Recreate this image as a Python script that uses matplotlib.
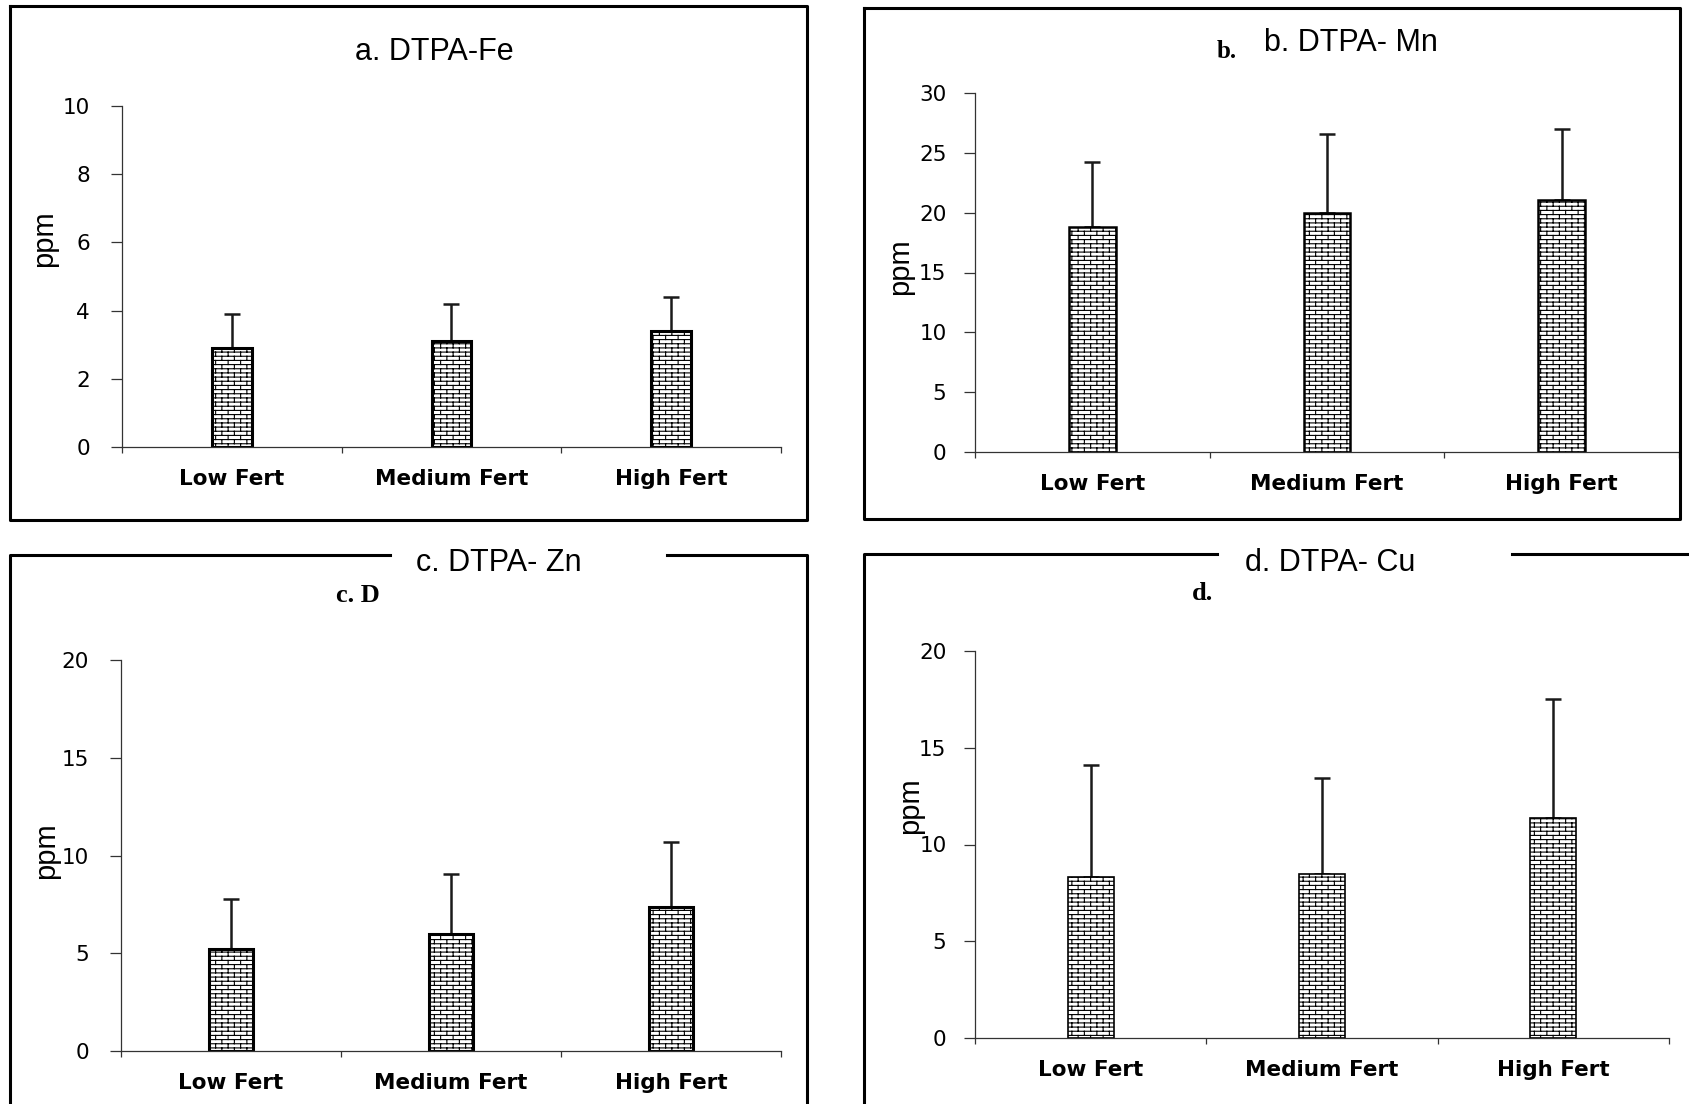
import numpy as np
import matplotlib
matplotlib.use('Agg')
import matplotlib.pyplot as plt
import matplotlib.hatch as mhatch
from matplotlib.path import Path
from matplotlib.lines import Line2D

categories = ['Low Fert', 'Medium Fert', 'High Fert']

fe_mean = [2.9, 3.1, 3.4]
fe_sd = [0.99, 1.1, 0.99]
mn_mean = [18.8, 19.95, 21.1]
mn_sd = [5.45, 6.6, 5.85]
zn_mean = [5.2, 5.97, 7.38]
zn_sd = [2.57, 3.1, 3.32]
cu_mean = [8.3, 8.48, 11.39]
cu_sd = [5.81, 4.97, 6.14]

W, H = 1690, 1104


# brick pattern used as the '-' hatch
class BrickHatch(mhatch.HatchPatternBase):
    rows = 24
    cols = 8

    def __init__(self, hatch, density):
        self.on = '-' in hatch
        n, m = self.rows, self.cols
        self.num_vertices = (2 * n + 2 * n * m + 2 * m) if self.on else 0

    def set_vertices_and_codes(self, vertices, codes):
        n, m = self.rows, self.cols
        k = 0
        for i in range(n):
            y = (i + 0.5) / n
            vertices[k] = (0, y)
            vertices[k + 1] = (1, y)
            k += 2
        for i in range(n):
            y0 = (i + 0.5) / n
            y1 = min((i + 1.5) / n, 1.0)
            off = 0.5 / m if i % 2 else 0.0
            for j in range(m):
                x = j / m + off + 0.25 / m
                vertices[k] = (x, y0)
                vertices[k + 1] = (x, y1)
                k += 2
        off = 0.5 / m if (n - 1) % 2 else 0.0
        for j in range(m):
            x = j / m + off + 0.25 / m
            vertices[k] = (x, 0.0)
            vertices[k + 1] = (x, 0.5 / n)
            k += 2
        codes[0::2] = Path.MOVETO
        codes[1::2] = Path.LINETO


mhatch._hatch_types[:] = [BrickHatch]
plt.rcParams['hatch.linewidth'] = 0.8


def fx(x):
    return x / W


def fy(y):
    return 1 - y / H


def px_rect(l, t, r, b):
    return [l / W, 1 - b / H, (r - l) / W, (b - t) / H]


def line(fig, xs, ys, lw=2.2):
    fig.add_artist(Line2D([fx(v) for v in xs], [fy(v) for v in ys],
                          transform=fig.transFigure, color='black', lw=lw,
                          solid_capstyle='projecting'))


def panel(fig, rect, means, sds, ymax, ystep, width, edge_lw, ylab_xy, ypad):
    ax = fig.add_axes(px_rect(*rect))
    x = np.arange(len(categories))
    ax.bar(x, means, width=width, color='white', edgecolor='black',
           linewidth=edge_lw, hatch='-', zorder=2)
    ax.errorbar(x, means, yerr=[np.zeros(len(sds)), sds], fmt='none',
                ecolor='#1a1a1a', elinewidth=1.8, capsize=6, capthick=1.8,
                zorder=1)
    ax.set_xlim(-0.5, 2.5)
    ax.set_ylim(0, ymax)
    ax.set_yticks(np.arange(0, ymax + 0.01, ystep))
    ax.set_yticklabels([f'{v:g}' for v in np.arange(0, ymax + 0.01, ystep)],
                       fontsize=15.5, family='DejaVu Sans')
    ax.set_xticks(x)
    ax.set_xticklabels(categories, fontsize=15.5, fontweight='bold',
                       family='DejaVu Sans')
    ax.set_xticks([-0.5, 0.5, 1.5, 2.5], minor=True)
    ax.tick_params(axis='x', which='major', length=0, pad=16)
    ax.tick_params(axis='x', which='minor', length=4.5, width=0.9,
                   color='#333333')
    ax.tick_params(axis='y', length=8, width=0.9, color='#333333', pad=ypad)
    for s in ['top', 'right']:
        ax.spines[s].set_visible(False)
    for s in ['left', 'bottom']:
        ax.spines[s].set_color('#333333')
        ax.spines[s].set_linewidth(0.9)
    ax.set_ylabel('ppm', fontsize=21, family='Liberation Sans', va='center')
    ax.yaxis.set_label_coords(fx(ylab_xy[0]), fy(ylab_xy[1]),
                              transform=fig.transFigure)
    return ax


fig = plt.figure(figsize=(W / 100, H / 100), dpi=100)

panel(fig, (122, 106, 781, 447), fe_mean, fe_sd, 10, 2, 0.18, 2.2, (44, 239), 15)
panel(fig, (975, 93, 1679, 452), mn_mean, mn_sd, 30, 5, 0.2, 1.8, (900, 267), 12.5)
panel(fig, (121, 660, 781, 1051), zn_mean, zn_sd, 20, 5, 0.2, 2.2, (46, 851), 15)
panel(fig, (975, 651, 1669, 1038), cu_mean, cu_sd, 20, 5, 0.2, 1.2, (910, 806), 12.5)

# panel frames
line(fig, [10, 807, 807, 10, 10], [6, 6, 520, 520, 6])
line(fig, [864, 1680, 1680, 864, 864], [8, 8, 519, 519, 8])
line(fig, [390, 10, 10], [555, 555, 1110])
line(fig, [667, 807, 807], [555, 555, 1110])
line(fig, [1217, 864, 864], [554, 554, 1110])
line(fig, [1512, 1695], [554, 554])

# titles
fig.text(fx(434), fy(52), 'a. DTPA-Fe', ha='center', va='center',
         fontsize=22, family='Liberation Sans')
fig.text(fx(1351), fy(43), 'b. DTPA- Mn', ha='center', va='center',
         fontsize=22, family='Liberation Sans')
fig.text(fx(1227), fy(51), 'b.', ha='center', va='center',
         fontsize=18, fontweight='bold', family='Liberation Serif')
fig.text(fx(499), fy(563), 'c. DTPA- Zn', ha='center', va='center',
         fontsize=22, family='Liberation Sans')
fig.text(fx(358), fy(596), 'c. D', ha='center', va='center',
         fontsize=19, fontweight='bold', family='Liberation Serif')
fig.text(fx(1330), fy(563), 'd. DTPA- Cu', ha='center', va='center',
         fontsize=22, family='Liberation Sans')
fig.text(fx(1203), fy(593), 'd.', ha='center', va='center',
         fontsize=19, fontweight='bold', family='Liberation Serif')

fig.savefig('out.png', dpi=100, facecolor='white')
